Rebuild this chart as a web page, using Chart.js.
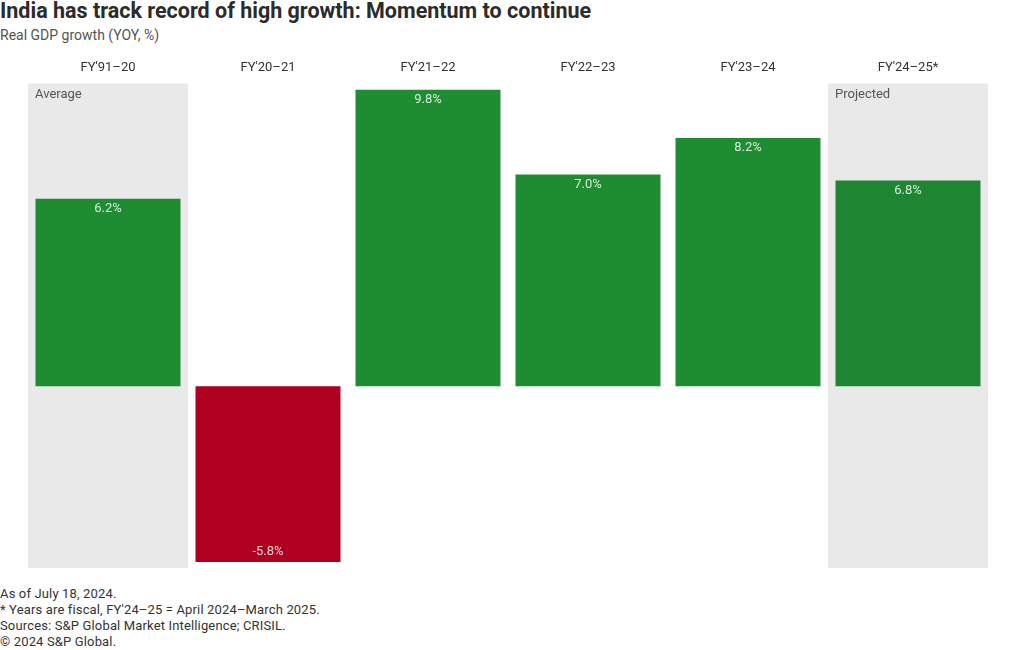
<!DOCTYPE html>
<html>
<head>
<meta charset="utf-8">
<script src="https://cdn.jsdelivr.net/npm/chart.js@4"></script>
<style>
  body { margin: 0; width: 1020px; height: 650px; background: #fff; font-family: "Roboto", sans-serif; color: #333; position: relative; overflow: hidden; }
  #title { position: absolute; left: 0; top: -1px; font-size: 21.5px; font-weight: 700; color: #2b2b2b; line-height: 24px; }
  #subtitle { position: absolute; left: 0; top: 27px; font-size: 14px; color: #555; line-height: 16px; }
  #wrap { position: absolute; left: 0; top: 50px; width: 1020px; height: 525px; }
  #notes { position: absolute; left: 0; top: 586px; font-size: 13px; letter-spacing: 0.15px; color: #333; line-height: 16px; }
</style>
</head>
<body>
<div id="title">India has track record of high growth: Momentum to continue</div>
<div id="subtitle">Real GDP growth (YOY, %)</div>
<div id="wrap"><canvas id="gdp-chart"></canvas></div>
<div id="notes">
  As of July 18, 2024.<br>
  * Years are fiscal, FY'24–25 = April 2024–March 2025.<br>
  Sources: S&amp;P Global Market Intelligence; CRISIL.<br>
  © 2024 S&amp;P Global.
</div>
<script>
// Real GDP growth, % YOY
const periods = ["FY'91–20", "FY'20–21", "FY'21–22", "FY'22–23", "FY'23–24", "FY'24–25*"];
const growth = [6.2, -5.8, 9.8, 7.0, 8.2, 6.8];
const barColors = ["#1e8c30", "#b0001f", "#1e8c30", "#1e8c30", "#1e8c30", "#1e8532"];
// shaded columns and their notes
const shadedCols = [0, 5];
const shadedNotes = ["Average", "Projected"];

const bandPlugin = {
  id: "bands",
  beforeDatasetsDraw(chart) {
    const { ctx, chartArea, scales } = chart;
    const step = scales.x.width / periods.length;
    ctx.save();
    shadedCols.forEach((idx, k) => {
      const cx = scales.x.getPixelForValue(idx);
      ctx.fillStyle = "#e9e9e9";
      ctx.fillRect(cx - step / 2, chartArea.top, step, chartArea.bottom - chartArea.top);
      ctx.fillStyle = "#555";
      ctx.font = "13px Roboto";
      ctx.textBaseline = "middle";
      ctx.textAlign = "left";
      ctx.fillText(shadedNotes[k], cx - step / 2 + 7, chartArea.top + 11);
    });
    ctx.restore();
  }
};

const valueLabels = {
  id: "valueLabels",
  afterDatasetsDraw(chart) {
    const { ctx } = chart;
    const meta = chart.getDatasetMeta(0);
    ctx.save();
    ctx.font = "13px Roboto";
    ctx.fillStyle = "rgba(255,255,255,0.82)";
    ctx.textAlign = "center";
    ctx.textBaseline = "middle";
    meta.data.forEach((bar, i) => {
      const v = growth[i];
      const y = v >= 0 ? bar.y + 10 : bar.y - 10;
      ctx.fillText(v.toFixed(1) + "%", bar.x, y);
    });
    ctx.restore();
  }
};

new Chart(document.getElementById("gdp-chart"), {
  type: "bar",
  data: {
    labels: periods,
    datasets: [{
      data: growth,
      backgroundColor: barColors,
      borderWidth: 0,
      categoryPercentage: 1,
      barPercentage: 145 / 160
    }]
  },
  options: {
    responsive: true,
    maintainAspectRatio: false,
    animation: false,
    layout: { padding: { left: 28, right: 32, top: 2, bottom: 7 } },
    plugins: {
      legend: { display: false },
      tooltip: { enabled: false }
    },
    scales: {
      x: {
        position: "top",
        grid: { display: false, drawTicks: false },
        border: { display: false },
        ticks: { color: "#333", font: { family: "Roboto", size: 13 }, padding: 8 }
      },
      y: {
        display: false,
        min: -6,
        max: 10
      }
    }
  },
  plugins: [bandPlugin, valueLabels]
});
</script>
</body>
</html>
